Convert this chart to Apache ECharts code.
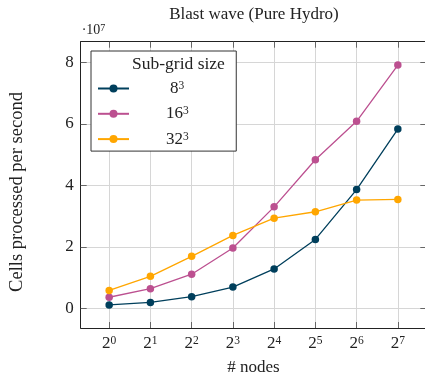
<!DOCTYPE html>
<html><head><meta charset="utf-8">
<script src="https://cdn.jsdelivr.net/npm/echarts@6/dist/echarts.min.js"></script>
<style>html,body{margin:0;padding:0;background:#fff}#c{width:425px;height:376px}</style>
</head><body><div id="c"></div>
<script>
const nodeExp = [0, 1, 2, 3, 4, 5, 6, 7];
const subgridBase = ['8', '16', '32'];
const subgridExp = '3';
const cells8 = [0.11, 0.19, 0.38, 0.69, 1.28, 2.24, 3.86, 5.83];
const cells16 = [0.36, 0.64, 1.11, 1.96, 3.30, 4.83, 6.08, 7.91];
const cells32 = [0.58, 1.04, 1.69, 2.37, 2.93, 3.14, 3.52, 3.54];
const yTicks = [0, 2, 4, 6, 8];
const colors = ['#003f5c', '#bc5090', '#ffa600'];
const seriesValues = [cells8, cells16, cells32];

const FONT = 'Liberation Serif';
const TXT = '#222';
const chart = echarts.init(document.getElementById('c'), null, {renderer: 'canvas'});

const names = subgridBase.map(b => b + '^' + subgridExp);
const axLine = {show: true, onZero: false, lineStyle: {color: '#222', width: 1}};
const tickStyle = {color: '#666'};
const gridLine = {show: true, lineStyle: {color: '#d6d6d6', width: 1}};
chart.setOption({
  animation: false,
  backgroundColor: '#fff',
  textStyle: {fontFamily: FONT, color: TXT},
  title: {
    text: 'Blast wave (Pure Hydro)', left: 254, top: 6, padding: 0, textAlign: 'center',
    textStyle: {fontFamily: FONT, fontSize: 17, fontWeight: 'normal', color: TXT}
  },
  grid: {left: 80.7, right: -1.3, top: 41.7, bottom: 48, containLabel: false, outerBoundsMode: 'none'},
  xAxis: [
    {
      type: 'value', min: -0.69, max: 7.69, position: 'bottom',
      axisLine: axLine,
      axisTick: {show: true, inside: true, length: 6, lineStyle: tickStyle, customValues: nodeExp},
      splitLine: gridLine,
      axisLabel: {customValues: nodeExp, formatter: v => '{b|2}{s|' + v + '}', margin: 7, color: TXT,
        rich: {b: {fontFamily: FONT, fontSize: 17, color: TXT, verticalAlign: 'bottom'},
               s: {fontFamily: FONT, fontSize: 11.5, color: TXT, verticalAlign: 'top'}}},
      name: '# nodes', nameLocation: 'middle', nameGap: 31,
      nameTextStyle: {fontFamily: FONT, fontSize: 17, color: TXT}
    },
    {
      type: 'value', min: -0.69, max: 7.69, position: 'top',
      axisLine: axLine,
      axisTick: {show: true, inside: true, length: 6, lineStyle: tickStyle, customValues: nodeExp},
      splitLine: {show: false}, axisLabel: {show: false}
    }
  ],
  yAxis: [
    {
      type: 'value', min: -0.64, max: 8.67, position: 'left',
      axisLine: axLine,
      axisTick: {show: true, inside: true, length: 6, lineStyle: tickStyle, customValues: yTicks},
      splitLine: gridLine,
      axisLabel: {customValues: yTicks, formatter: v => String(v), margin: 7, fontFamily: FONT, fontSize: 17, color: TXT},
      name: '·10{e|7}', nameLocation: 'end', nameGap: 4,
      nameTextStyle: {fontFamily: FONT, fontSize: 14, color: TXT, align: 'left', padding: [0, 0, 0, 1],
        rich: {e: {fontFamily: FONT, fontSize: 10, color: TXT, verticalAlign: 'top'}}}
    },
    {
      type: 'value', min: -0.64, max: 8.67, position: 'right',
      axisLine: axLine,
      axisTick: {show: true, inside: true, length: 6, lineStyle: tickStyle, customValues: yTicks},
      splitLine: {show: false}, axisLabel: {show: false}
    }
  ],
  legend: {
    orient: 'vertical', left: 91, top: 51,
    padding: [29, 47.5, 3.5, 6], itemGap: 8.3, itemWidth: 31, itemHeight: 10,
    backgroundColor: '#fff', borderColor: '#333', borderWidth: 1, borderRadius: 0,
    data: names,
    formatter: function (n) {
      const parts = n.split('^');
      const pad = parts[0].length === 1 ? 'p1' : 'p2';
      return '{' + pad + '|}{b|' + parts[0] + '}{s|' + parts[1] + '}';
    },
    textStyle: {
      fontFamily: FONT, fontSize: 17, color: TXT,
      rich: {
        p1: {width: 36}, p2: {width: 32},
        b: {fontFamily: FONT, fontSize: 17, color: TXT, verticalAlign: 'bottom'},
        s: {fontFamily: FONT, fontSize: 11.5, color: TXT, verticalAlign: 'top'}
      }
    }
  },
  graphic: [
    {
      type: 'text', x: 132, y: 64.5, z: 100,
      style: {text: 'Sub-grid size', font: '17.5px "Liberation Serif"', fill: TXT, align: 'left', verticalAlign: 'middle'}
    },
    {
      type: 'text', x: 17, y: 192, rotation: Math.PI / 2, z: 100,
      style: {text: 'Cells processed per second', font: '18.5px "Liberation Serif"', fill: TXT, align: 'center', verticalAlign: 'middle'}
    }
  ],
  series: seriesValues.map((vals, i) => ({
    name: names[i], type: 'line', xAxisIndex: 0, yAxisIndex: 0,
    data: vals.map((v, j) => [nodeExp[j], v]),
    symbol: 'circle', symbolSize: 7.5, showSymbol: true,
    itemStyle: {color: colors[i]},
    lineStyle: {color: colors[i], width: 1.3}
  }))
});
</script></body></html>
